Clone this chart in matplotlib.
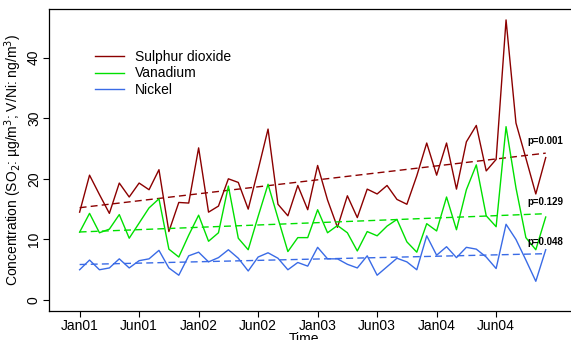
import numpy as np
import matplotlib
matplotlib.use("Agg")
import matplotlib.pyplot as plt

plt.rcParams["font.family"] = ["Liberation Sans", "DejaVu Sans"]

# Monthly concentrations, Jan 2001 - Dec 2004
sulphur_dioxide = [14.5, 20.6, 17.4, 14.3, 19.3, 17.0, 19.3, 18.2, 21.5, 11.3,
                   16.1, 16.0, 25.1, 14.5, 15.5, 20.0, 19.4, 15.0, 21.5, 28.2,
                   15.8, 13.9, 18.9, 14.9, 22.2, 16.5, 12.0, 17.2, 13.6, 18.3,
                   17.5, 18.9, 16.6, 15.8, 20.5, 25.9, 20.6, 25.9, 18.3, 26.1,
                   28.8, 21.3, 23.2, 46.2, 29.2, 23.4, 17.5, 23.5]
vanadium = [11.2, 14.3, 11.1, 11.7, 14.1, 10.2, 12.7, 15.2, 16.7, 8.4,
            7.1, 10.7, 14.0, 9.7, 11.1, 18.8, 10.2, 8.3, 13.8, 19.1,
            13.5, 8.0, 10.3, 10.3, 14.9, 11.1, 12.3, 11.1, 8.1, 11.3,
            10.6, 12.2, 13.3, 9.6, 7.9, 12.6, 11.4, 17.0, 11.6, 18.2,
            22.3, 13.9, 12.1, 28.6, 18.5, 10.3, 8.3, 13.7]
nickel = [5.0, 6.6, 5.0, 5.3, 6.8, 5.3, 6.5, 6.8, 8.2, 5.3,
          4.1, 7.3, 7.9, 6.3, 7.0, 8.3, 6.9, 4.8, 7.1, 7.8,
          6.9, 5.0, 6.2, 5.6, 8.7, 6.8, 6.8, 5.9, 5.3, 7.3,
          4.1, 5.5, 6.9, 6.3, 5.0, 10.6, 7.4, 8.8, 7.0, 8.7,
          8.4, 7.1, 5.2, 12.5, 10.0, 6.6, 3.1, 8.3]

series_names = ["Sulphur dioxide", "Vanadium", "Nickel"]
series_colors = ["#8B0000", "#00E000", "#3A6BE6"]
p_values = ["p=0.001", "p=0.129", "p=0.048"]

tick_labels = ["Jan01", "Jun01", "Jan02", "Jun02", "Jan03", "Jun03", "Jan04", "Jun04"]
tick_positions = [0, 6, 12, 18, 24, 30, 36, 42]

fig = plt.figure(figsize=(5.71, 3.40), dpi=100)
ax = fig.add_axes([0.0863, 0.0853, 0.925, 0.8882])

t = np.arange(len(sulphur_dioxide))
handles = []
for values, name, color, ptxt in zip([sulphur_dioxide, vanadium, nickel],
                                     series_names, series_colors, p_values):
    y = np.asarray(values)
    h, = ax.plot(t, y, color=color, lw=1.0, label=name)
    handles.append(h)
    slope, intercept = np.polyfit(t, y, 1)
    trend = intercept + slope * t
    ax.plot(t, trend, color=color, lw=1.0, ls=(0, (5, 3)))
    ax.text(45.2, trend[-1] + 2.0, ptxt, fontsize=7, fontweight="bold",
            ha="left", va="center")

ax.set_xlim(-3.06, 50.2)
ax.set_ylim(-1.8, 48.0)
ax.set_xticks(tick_positions)
ax.set_xticklabels(tick_labels, fontsize=10)
ax.set_yticks([0, 10, 20, 30, 40])
ax.set_yticklabels(["0", "10", "20", "30", "40"], fontsize=10,
                   rotation=90, va="center")
ax.tick_params(direction="out", length=4, width=0.8, pad=2)
ax.spines["right"].set_visible(False)
for s in ["left", "bottom", "top"]:
    ax.spines[s].set_linewidth(0.9)

ax.set_xlabel("Time", fontsize=10)
ax.xaxis.set_label_coords(0.482, -0.068)
ax.set_ylabel(r"Concentration (SO$_2$: µg/m$^3$; V/Ni: ng/m$^3$)", fontsize=10,
              labelpad=2)

ax.legend(handles=handles, loc="upper left", bbox_to_anchor=(0.076, 0.884),
          frameon=False, fontsize=10, handlelength=2.1, handletextpad=0.75,
          labelspacing=0.2, borderaxespad=0)

fig.savefig("out.png", dpi=100)
